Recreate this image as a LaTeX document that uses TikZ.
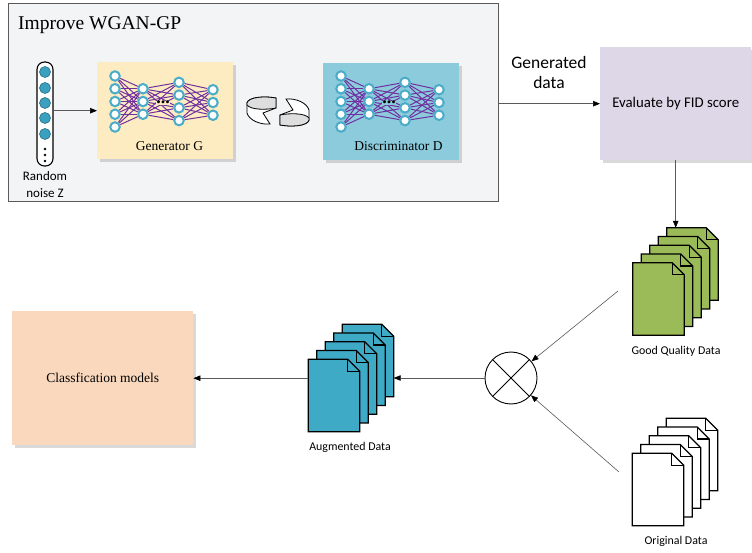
\documentclass[tikz,border=0pt]{standalone}
\usepackage{fontspec}
\setmainfont{Liberation Serif}
\newfontfamily\calibri{Carlito}
\usetikzlibrary{shapes,arrows.meta,positioning,shadows,calc}
\definecolor{panelgrey}{RGB}{243,244,246}
\definecolor{panelline}{RGB}{90,90,90}
\definecolor{genyellow}{RGB}{253,236,193}
\definecolor{discblue}{RGB}{139,203,220}
\definecolor{evalpurple}{RGB}{221,215,232}
\definecolor{classpeach}{RGB}{249,216,189}
\definecolor{neuronteal}{RGB}{74,172,200}
\definecolor{noiseteal}{RGB}{58,160,192}
\definecolor{wirepurple}{RGB}{112,48,160}
\definecolor{goodgreen}{RGB}{155,187,89}
\definecolor{augteal}{RGB}{62,170,198}
\definecolor{swapgrey}{RGB}{222,222,222}
\pgfdeclarelayer{background}
\pgfdeclarelayer{wires}
\pgfsetlayers{background,wires,main}
\tikzstyle{boxshadow} = [drop shadow={opacity=0.3, shadow xshift=2.5pt, shadow yshift=-2.5pt}]
\tikzstyle{netbox} = [rectangle, minimum width=136pt, minimum height=97pt, inner sep=0pt, anchor=north west, boxshadow]
\tikzstyle{neuron} = [circle, draw=neuronteal, line width=2pt, fill=white, minimum size=9.5pt, inner sep=0pt]
\tikzstyle{noisecell} = [circle, draw=noiseteal!70!black, fill=noiseteal, minimum size=11pt, inner sep=0pt, line width=0.6pt]
\tikzstyle{wire} = [wirepurple, line width=1pt]
\tikzstyle{arrow} = [-{Triangle[length=7pt,width=5.5pt,color=black]}, line width=0.6pt, draw=black!65]
\tikzstyle{docslot} = [rectangle, minimum width=51pt, minimum height=72pt, inner sep=0pt]
\tikzstyle{docline} = [line width=1.2pt, draw=black]
\tikzstyle{datalabel} = [font=\calibri\fontsize{11.9}{14}\selectfont]
\tikzstyle{netlabel} = [font=\fontsize{13.5}{16}\selectfont]

% small MLP: #1 name prefix, #2 x offset, #3 box colour behind the dots
\newcommand{\mlp}[3]{%
  \foreach \k in {1,...,5} \node[neuron] (#1a\k) at (115+#2, 63.25+12.75*\k) {};
  \foreach \k in {1,2,3} \node[neuron] (#1b\k) at (143+#2, 76+12.75*\k) {};
  \foreach \k in {1,...,4} \node[neuron] (#1c\k) at (179+#2, 69.6+12.75*\k) {};
  \foreach \k in {1,2,3} \node[neuron] (#1d\k) at (213+#2, 77+12.75*\k) {};
  \node[anchor=base, font=\bfseries\fontsize{18}{18}\selectfont, inner sep=0.5pt, fill=#3] (#1dots) at (163+#2, 104) {...};
  \begin{pgfonlayer}{wires}
    \foreach \k in {1,...,5} \foreach \m in {1,2,3} \draw[wire] (#1a\k) -- (#1b\m);
    \foreach \k in {1,2,3} \foreach \m in {1,...,4} \draw[wire] (#1b\k) -- (#1c\m);
    \foreach \k in {1,...,4} \foreach \m in {1,2,3} \draw[wire] (#1c\k) -- (#1d\m);
  \end{pgfonlayer}
}

% stack of five pages: #1 name, #2 #3 centre of the front page, #4 fill
\newcommand{\docstack}[4]{%
  \foreach \i in {4,3,2,1,0} {
    \node[docslot] (#1\i) at (#2+8.5*\i, #3-8.75*\i) {};
    \filldraw[docline, fill=#4] (#1\i.south west) -- (#1\i.north west) -- ([xshift=-12pt]#1\i.north east)
      -- ([yshift=-12pt]#1\i.north east) -- (#1\i.south east) -- cycle;
    \draw[docline] ([xshift=-12pt]#1\i.north east) -- ([xshift=-12pt,yshift=-12pt]#1\i.north east)
      -- ([yshift=-12pt]#1\i.north east);
  }
}

\begin{document}
\begin{tikzpicture}[x=1pt, y=-1pt]
\useasboundingbox (0,0) rectangle (752,553);

% WGAN-GP panel with generator and discriminator
\begin{pgfonlayer}{background}
  \node[draw=panelline, line width=1.3pt, fill=panelgrey, minimum width=490pt, minimum height=198pt, anchor=north west, inner sep=0pt] (panel) at (8,3) {};
  \node[netbox, fill=genyellow] (gen) at (97,62) {};
  \node[netbox, fill=discblue] (disc) at (323,63) {};
\end{pgfonlayer}
\node[anchor=base west, inner sep=0pt, font=\fontsize{19.5}{22}\selectfont] (title) at (18,30) {Improve WGAN-GP};

\mlp{g}{0}{genyellow}
\mlp{d}{226}{discblue}
\node[netlabel] (genlbl) at (169.5,146) {Generator G};
\node[netlabel] (disclbl) at (398.5,146) {Discriminator D};

% noise vector
\node[draw, line width=1.1pt, rounded corners=7.5pt, minimum width=16pt, minimum height=104pt, inner sep=0pt, fill=white] (noise) at (45,114) {};
\foreach \y [count=\c] in {72,88,103,118,134} \node[noisecell] (z\c) at (45,\y) {};
\foreach \y [count=\c] in {149,155,161} \node[circle, fill=black, inner sep=0pt, minimum size=2.8pt] (zdot\c) at (45,\y) {};
\node[font=\calibri\fontsize{13}{17}\selectfont, align=center] (noiselbl) at (45,184.5) {Random\\noise Z};
\draw[arrow] (noise.east |- gen.west) -- (gen.west);

% swap symbol between G and D
\foreach \r in {0,180} {
  \begin{scope}[rotate around={\r:(278,111.5)}]
    \filldraw[fill=white, line width=0.8pt] (276,98) .. controls (258,95) and (245,99) .. (247,105) -- (247,113)
      .. controls (249,120) and (260,125) .. (270,124) -- (263,113) -- (276,108) -- cycle;
    \filldraw[fill=swapgrey, line width=0.8pt] (276,98) .. controls (258,95) and (245,99) .. (247,105)
      .. controls (251,110) and (266,110) .. (276,108) -- cycle;
  \end{scope}
}

% evaluation
\node[rectangle, fill=evalpurple, minimum width=151pt, minimum height=113pt, inner sep=0pt, anchor=north west, boxshadow, font=\calibri\fontsize{14.8}{17}\selectfont] (evalbox) at (600,47) {Evaluate by FID score};
\node[font=\calibri\fontsize{17.5}{20}\selectfont, align=center] (gentext) at (549,72) {Generated\\data};
\draw[arrow] (panel.east |- evalbox.west) -- (evalbox.west);

% data stacks
\docstack{good}{658.5}{299}{goodgreen}
\docstack{aug}{334}{395.5}{augteal}
\docstack{orig}{658}{489.5}{white}
\node[datalabel] (goodlbl) at (676,351) {Good Quality Data};
\node[datalabel] (auglbl) at (350,447) {Augmented Data};
\node[datalabel] (origlbl) at (676,541) {Original Data};
\draw[arrow] (evalbox.south) -- (evalbox.south |- good4.north);

% merge
\node[circle, draw, line width=0.9pt, minimum size=52pt, inner sep=0pt, fill=white,
  path picture={\draw[line width=0.9pt] (path picture bounding box.north west) -- (path picture bounding box.south east)
  (path picture bounding box.north east) -- (path picture bounding box.south west);}] (mix) at (511,378) {};
\coordinate (goodfrom) at (618,291);
\coordinate (origfrom) at (619,472);
\draw[arrow] (goodfrom) -- (mix);
\draw[arrow] (origfrom) -- (mix);
\draw[arrow] (mix.west) -- (mix.west -| aug4.east);

% classifiers
\node[rectangle, fill=classpeach, minimum width=181pt, minimum height=134pt, inner sep=0pt, anchor=north west, boxshadow, netlabel] (class) at (12,311) {Classfication models};
\draw[arrow] (aug0.west |- class.east) -- (class.east);

\end{tikzpicture}
\end{document}
